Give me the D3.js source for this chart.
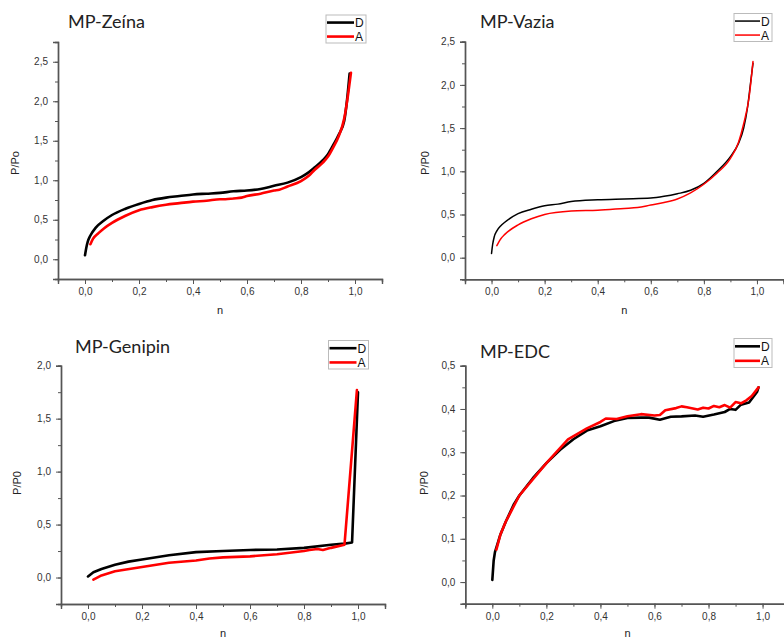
<!DOCTYPE html>
<html>
<head>
<meta charset="utf-8">
<script src="https://cdn.jsdelivr.net/npm/d3@7"></script>
<style>
  html, body { margin: 0; padding: 0; background: #fff; }
  svg { display: block; }
</style>
</head>
<body>
<svg id="chart" width="784" height="638"></svg>
<script>
// ---- Data: [n, P/P0] pairs for desorption (D) and adsorption (A) ----
const zeinaD = [[0,0.05],[0.005,0.15],[0.01,0.22],[0.02,0.30],[0.04,0.40],[0.07,0.49],[0.1,0.56],[0.15,0.64],[0.2,0.70],[0.25,0.75],[0.3,0.78],[0.35,0.80],[0.4,0.82],[0.45,0.83],[0.5,0.84],[0.55,0.86],[0.6,0.87],[0.65,0.89],[0.7,0.93],[0.75,0.97],[0.8,1.04],[0.82,1.08],[0.85,1.16],[0.88,1.25],[0.9,1.33],[0.92,1.45],[0.94,1.58],[0.96,1.75],[0.97,2.0],[0.98,2.35]];
const zeinaA = [[0.02,0.19],[0.03,0.26],[0.05,0.33],[0.07,0.39],[0.1,0.46],[0.15,0.55],[0.2,0.62],[0.25,0.66],[0.3,0.69],[0.35,0.71],[0.4,0.73],[0.45,0.74],[0.5,0.76],[0.52,0.76],[0.55,0.77],[0.58,0.78],[0.6,0.80],[0.65,0.83],[0.7,0.87],[0.72,0.88],[0.75,0.92],[0.8,0.99],[0.83,1.06],[0.85,1.13],[0.88,1.22],[0.9,1.30],[0.92,1.42],[0.94,1.56],[0.96,1.78],[0.975,2.1],[0.985,2.36]];

const vaziaD = [[0,0.05],[0.004,0.15],[0.01,0.24],[0.02,0.31],[0.035,0.37],[0.05,0.41],[0.1,0.51],[0.15,0.56],[0.2,0.60],[0.25,0.62],[0.3,0.65],[0.4,0.67],[0.5,0.68],[0.6,0.69],[0.65,0.71],[0.7,0.74],[0.75,0.78],[0.8,0.86],[0.85,1.0],[0.9,1.17],[0.93,1.32],[0.95,1.5],[0.965,1.75],[0.975,2.0],[0.985,2.25]];
const vaziaA = [[0.02,0.14],[0.035,0.22],[0.05,0.27],[0.1,0.38],[0.15,0.45],[0.2,0.50],[0.3,0.54],[0.4,0.55],[0.5,0.57],[0.55,0.58],[0.6,0.61],[0.65,0.64],[0.7,0.68],[0.75,0.75],[0.8,0.85],[0.85,0.98],[0.9,1.15],[0.93,1.33],[0.95,1.55],[0.97,1.85],[0.985,2.27]];

const genipinD = [[0,0.01],[0.02,0.05],[0.05,0.08],[0.1,0.12],[0.15,0.15],[0.2,0.17],[0.3,0.21],[0.4,0.24],[0.5,0.25],[0.6,0.26],[0.7,0.265],[0.8,0.28],[0.9,0.31],[0.95,0.32],[0.978,0.33],[1.0,1.75]];
const genipinA = [[0.02,-0.02],[0.05,0.02],[0.1,0.06],[0.2,0.10],[0.3,0.14],[0.4,0.16],[0.45,0.18],[0.5,0.19],[0.6,0.20],[0.7,0.22],[0.8,0.25],[0.82,0.26],[0.85,0.27],[0.87,0.26],[0.9,0.28],[0.95,0.31],[0.996,1.77]];

const edcD = [[0,0.005],[0.005,0.05],[0.01,0.07],[0.03,0.11],[0.05,0.14],[0.08,0.18],[0.1,0.20],[0.15,0.24],[0.2,0.275],[0.25,0.305],[0.3,0.33],[0.35,0.35],[0.4,0.36],[0.45,0.372],[0.5,0.379],[0.55,0.38],[0.58,0.38],[0.62,0.375],[0.66,0.382],[0.7,0.383],[0.75,0.385],[0.78,0.382],[0.82,0.387],[0.86,0.393],[0.88,0.40],[0.9,0.398],[0.92,0.41],[0.95,0.415],[0.98,0.44],[0.985,0.45]];
const edcA = [[0.015,0.075],[0.03,0.11],[0.05,0.14],[0.1,0.20],[0.2,0.275],[0.28,0.33],[0.35,0.355],[0.4,0.37],[0.42,0.378],[0.46,0.377],[0.5,0.383],[0.55,0.388],[0.6,0.385],[0.62,0.386],[0.64,0.397],[0.68,0.402],[0.7,0.406],[0.72,0.404],[0.76,0.399],[0.78,0.403],[0.8,0.401],[0.82,0.407],[0.84,0.404],[0.86,0.409],[0.88,0.403],[0.9,0.416],[0.92,0.413],[0.94,0.42],[0.96,0.43],[0.985,0.45]];

const titles = ["MP-Zeína", "MP-Vazia", "MP-Genipin", "MP-EDC"];
const yLabels = ["P/Po", "P/P0", "P/P0", "P/P0"];
const xLabel = "n";
const seriesNames = ["D", "A"];
const xTicks = [0, 0.2, 0.4, 0.6, 0.8, 1.0];
const yTicksBig = [0, 0.5, 1.0, 1.5, 2.0, 2.5];
const yTicksGen = [0, 0.5, 1.0, 1.5, 2.0];
const yTicksEdc = [0, 0.1, 0.2, 0.3, 0.4, 0.5];

// ---- Panel layout ----
const panels = [
  { title: titles[0], yLabel: yLabels[0], D: zeinaD, A: zeinaA, yTicks: yTicksBig, yDom: [-0.25, 2.75], yMinor: 0.25,
    box: { l: 58, r: 382, t: 42, b: 279 }, lw: 2.6, curve: d3.curveMonotoneX,
    titleXY: [68, 27.5], legend: { x: 326, y: 15, w: 40, h: 28 }, yLabelXY: [15, 163], xLabelY: 314 },
  { title: titles[1], yLabel: yLabels[1], D: vaziaD, A: vaziaA, yTicks: yTicksBig, yDom: [-0.25, 2.5], yMinor: 0.25,
    box: { l: 465, r: 783.5, t: 41.7, b: 279.3 }, lw: 1.5, curve: d3.curveMonotoneX,
    titleXY: [480, 27.5], legend: { x: 734, y: 13.5, w: 38, h: 28 }, yLabelXY: [425, 163], xLabelY: 314 },
  { title: titles[2], yLabel: yLabels[2], D: genipinD, A: genipinA, yTicks: yTicksGen, yDom: [-0.25, 2.0], yMinor: 0.25,
    box: { l: 61, r: 385, t: 365.7, b: 604 }, lw: 2.6, curve: d3.curveLinear,
    titleXY: [75, 352.5], legend: { x: 328.5, y: 340.5, w: 40, h: 28.5 }, yLabelXY: [17, 483], xLabelY: 637 },
  { title: titles[3], yLabel: yLabels[3], D: edcD, A: edcA, yTicks: yTicksEdc, yDom: [-0.05, 0.5], yMinor: 0.05,
    box: { l: 465.3, r: 789.6, t: 365.7, b: 603.7 }, lw: 2.6, curve: d3.curveLinear,
    titleXY: [480, 357.5], legend: { x: 734, y: 338.5, w: 38, h: 29 }, yLabelXY: [424, 483], xLabelY: 637 }
];

const colors = { D: "#000000", A: "#ff0000" };
const axisColor = "#555";
const fmt = v => d3.format(".1f")(v).replace(".", ",");

const svg = d3.select("#chart");

panels.forEach(p => {
  const g = svg.append("g");
  const x = d3.scaleLinear().domain([-0.1, 1.1]).range([p.box.l, p.box.r]);
  const y = d3.scaleLinear().domain(p.yDom).range([p.box.b, p.box.t]);

  // x axis: major ticks labelled, minor ticks every 0.1
  const xMinor = d3.range(-0.1, 1.1001, 0.1).map(v => +v.toFixed(2));
  const xAxisMinor = d3.axisBottom(x).tickValues(xMinor).tickSize(3).tickFormat("");
  const xAxis = d3.axisBottom(x).tickValues(xTicks).tickSize(5).tickPadding(4).tickFormat(fmt);
  const gx = g.append("g").attr("transform", `translate(0,${p.box.b})`);
  gx.append("g").call(xAxisMinor);
  gx.append("g").call(xAxis);

  // y axis: labelled majors plus minor ticks
  const yMinorVals = d3.range(p.yDom[0], p.yDom[1] + p.yMinor / 2, p.yMinor).map(v => +v.toFixed(3));
  const yAxisMinor = d3.axisLeft(y).tickValues(yMinorVals).tickSize(3).tickFormat("");
  const yAxis = d3.axisLeft(y).tickValues(p.yTicks).tickSize(5).tickPadding(5).tickFormat(fmt);
  const gy = g.append("g").attr("transform", `translate(${p.box.l},0)`);
  gy.append("g").call(yAxisMinor);
  gy.append("g").call(yAxis);

  g.selectAll(".domain").attr("stroke", axisColor).attr("stroke-width", 1.4);
  g.selectAll(".tick line").attr("stroke", axisColor).attr("stroke-width", 1);
  g.selectAll(".tick text")
    .attr("fill", "#333")
    .style("font-family", "'Liberation Sans', Arial, sans-serif")
    .style("font-size", "10px");

  // series
  const line = d3.line().x(d => x(d[0])).y(d => y(d[1])).curve(p.curve);
  ["D", "A"].forEach(k => {
    g.append("path")
      .datum(p[k])
      .attr("d", line)
      .attr("fill", "none")
      .attr("stroke", colors[k])
      .attr("stroke-width", p.lw)
      .attr("stroke-linejoin", "round")
      .attr("stroke-linecap", "round");
  });

  // title
  g.append("text")
    .attr("x", p.titleXY[0]).attr("y", p.titleXY[1])
    .style("font-family", "Lato, 'Open Sans', sans-serif")
    .style("font-size", "18px")
    .attr("fill", "#222")
    .text(p.title);

  // axis labels
  g.append("text")
    .attr("transform", `translate(${p.yLabelXY[0] + 4},${p.yLabelXY[1]}) rotate(-90)`)
    .attr("text-anchor", "middle")
    .style("font-family", "'Liberation Sans', Arial, sans-serif")
    .style("font-size", "11px")
    .attr("fill", "#222")
    .text(p.yLabel);
  g.append("text")
    .attr("x", x(0.5)).attr("y", p.xLabelY)
    .attr("text-anchor", "middle")
    .style("font-family", "'Liberation Sans', Arial, sans-serif")
    .style("font-size", "11px")
    .attr("fill", "#222")
    .text(xLabel);

  // legend
  const L = p.legend;
  const lg = g.append("g");
  lg.append("rect")
    .attr("x", L.x).attr("y", L.y).attr("width", L.w).attr("height", L.h)
    .attr("fill", "#fff").attr("stroke", "#bbb").attr("stroke-width", 1);
  seriesNames.forEach((name, i) => {
    const yy = L.y + L.h * (i === 0 ? 0.27 : 0.77);
    lg.append("line")
      .attr("x1", L.x + 1).attr("x2", L.x + L.w - 12)
      .attr("y1", yy).attr("y2", yy)
      .attr("stroke", colors[name]).attr("stroke-width", p.lw);
    lg.append("text")
      .attr("x", L.x + L.w - 11).attr("y", yy + 4.5)
      .style("font-family", "'Liberation Sans', Arial, sans-serif")
      .style("font-size", "12px")
      .attr("fill", "#111")
      .text(name);
  });
});
</script>
</body>
</html>
